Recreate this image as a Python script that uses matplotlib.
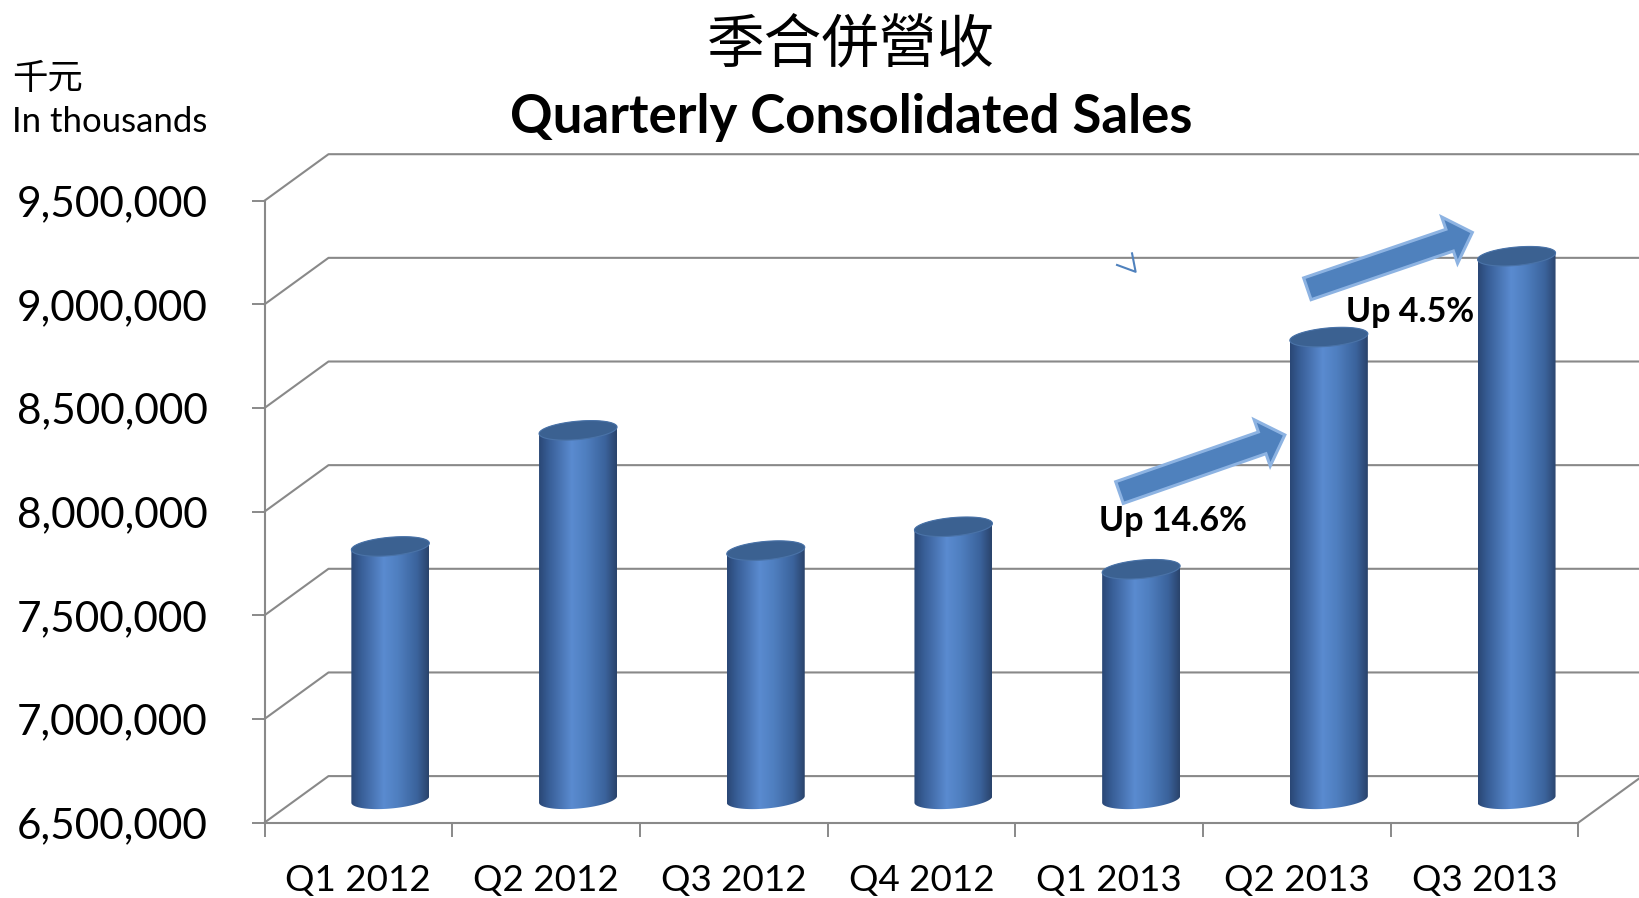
import numpy as np
import matplotlib
matplotlib.use('Agg')
import matplotlib.pyplot as plt
from matplotlib.colors import LinearSegmentedColormap
from matplotlib.patches import Polygon
from matplotlib.transforms import IdentityTransform

plt.rcParams['font.family'] = ['Lato', 'Noto Sans CJK TC', 'DejaVu Sans']
cjk = ['Noto Sans CJK TC', 'DejaVu Sans']

# data (thousands NTD)
quarters = ['Q1 2012', 'Q2 2012', 'Q3 2012', 'Q4 2012', 'Q1 2013', 'Q2 2013', 'Q3 2013']
sales = [7720000, 8280000, 7700000, 7815000, 7610000, 8730000, 9120000]
yticks = [6500000, 7000000, 7500000, 8000000, 8500000, 9000000, 9500000]
growth_labels = ['Up 14.6%', 'Up 4.5%']
growth_pos = [(4.34, 7955000), (5.603, 8965000)]
arrow_tails = [(4.055, 8092000), (5.056, 9075000)]
arrow_tips = [(4.936, 8370000), (5.935, 9347000)]

W, H = 1639, 898
fig = plt.figure(figsize=(W / 100, H / 100), dpi=100)
ax = fig.add_axes([264.5 / W, (H - 822.6) / H, (W - 264.5) / W, (822.6 - 140) / H])

ymin = yticks[0]
ypp = 500000 / 103.65   # value per pixel
xpp = 1 / 187.7         # category per pixel
dx = 64 * xpp     # depth offset of the back wall
dy = 46.5 * ypp
grid_c = '#898989'
n = len(quarters)

# back wall + side wall gridlines
for v in yticks:
    ax.plot([-0.5, -0.5 + dx, n - 0.5 + dx], [v, v + dy, v + dy],
            color=grid_c, lw=1.5, clip_on=False, zorder=1)
ax.plot([n - 0.5, n - 0.5 + dx], [ymin, ymin + dy], color=grid_c, lw=1.5,
        clip_on=False, zorder=1)

# cylinders
cmap = LinearSegmentedColormap.from_list('cyl', [
    (0.0, '#2a4775'), (0.12, '#375d95'), (0.42, '#5a8bd0'),
    (0.6, '#4f7fc0'), (0.85, '#3b639c'), (1.0, '#2a436b')])
grad = np.linspace(0, 1, 256).reshape(1, -1)
bw = 78 * xpp
a = bw / 2
b = 9.2 * ypp
k = 3.3 * ypp
base = ymin + dy / 2
t = np.linspace(0, np.pi, 60)

for i, v in enumerate(sales):
    cx = i + dx / 2
    top = v + dy / 2
    # front half of the bottom, back half of the top
    bx = cx + a * np.cos(t + np.pi)
    by = base + b * np.sin(t + np.pi) + k * np.cos(t + np.pi)
    tx = cx + a * np.cos(t)
    ty = top + b * np.sin(t) + k * np.cos(t)
    body = Polygon(np.column_stack([np.r_[bx, tx], np.r_[by, ty]]),
                   closed=True, fc='none', ec='none')
    ax.add_patch(body)
    im = ax.imshow(grad, cmap=cmap, aspect='auto', interpolation='bilinear',
                   extent=[cx - a, cx + a, base - b - k, top + b + k], zorder=3)
    im.set_clip_path(body)
    tt = np.linspace(0, 2 * np.pi, 120)
    ax.add_patch(Polygon(np.column_stack([cx + a * np.cos(tt),
                                          top + b * np.sin(tt) + k * np.cos(tt)]),
                         closed=True, fc='#3b6191', ec='#4a73a8', lw=0.8, zorder=4))

ax.set_xlim(-0.5, -0.5 + (W - 264.5) * xpp)
ax.set_ylim(ymin, ymin + (822.6 - 140) * ypp)

# axes
for s in ['top', 'right']:
    ax.spines[s].set_visible(False)
ax.spines['left'].set_bounds(yticks[0], yticks[-1])
ax.spines['bottom'].set_bounds(-0.5, n - 0.5)
for s in ['left', 'bottom']:
    ax.spines[s].set_color(grid_c)
    ax.spines[s].set_linewidth(1.5)

ax.set_yticks(yticks, [f'{v:,}' for v in yticks])
ax.tick_params(axis='y', length=9.4, width=1.4, color=grid_c, pad=31.5, labelsize=30.5)
ax.set_xticks(np.arange(-0.5, n, 1))
ax.set_xticks(range(n), quarters, minor=True)
ax.tick_params(axis='x', which='major', length=10, width=1.4, color=grid_c,
               labelbottom=False)
ax.tick_params(axis='x', which='minor', length=0, pad=30, labelsize=26.5)
ax.set_facecolor('none')


def block_arrow(tail, tip, shaft=23, head=49, head_len=24):
    p0 = ax.transData.transform(tail)
    p1 = ax.transData.transform(tip)
    u = (p1 - p0) / np.hypot(*(p1 - p0))
    nv = np.array([-u[1], u[0]])
    hb = p1 - u * head_len
    pts = [p0 + nv * shaft / 2, hb + nv * shaft / 2, hb + nv * head / 2, p1,
           hb - nv * head / 2, hb - nv * shaft / 2, p0 - nv * shaft / 2]
    ax.add_patch(Polygon(pts, closed=True, transform=IdentityTransform(),
                         fc='#4f81bd', ec='#8db3e2', lw=2.2, zorder=5, clip_on=False))


for tail, tip in zip(arrow_tails, arrow_tips):
    block_arrow(tail, tip)
for lab, (x, y) in zip(growth_labels, growth_pos):
    ax.text(x, y, lab, ha='center', va='center', fontsize=24.5, fontweight='bold', zorder=6)

# stray little mark in the original slide
ax.plot([4.042, 4.141, 4.122], [9190000, 9157000, 9246000], color='#4f81bd', lw=1.5)

fig.text(850.5 / W, 1 - 45 / H, '季合併營收', ha='center', va='center',
         fontsize=41.5, family=cjk)
fig.text(851.5 / W, 1 - 133 / H, 'Quarterly Consolidated Sales', ha='center',
         va='baseline', fontsize=38, fontweight='bold')
fig.text(12 / W, 1 - 79 / H, '千元', ha='left', va='center', fontsize=25.5, family=cjk)
fig.text(12 / W, 1 - 132 / H, 'In thousands', ha='left', va='baseline', fontsize=25)

fig.savefig('out.png', dpi=100, facecolor='white')
